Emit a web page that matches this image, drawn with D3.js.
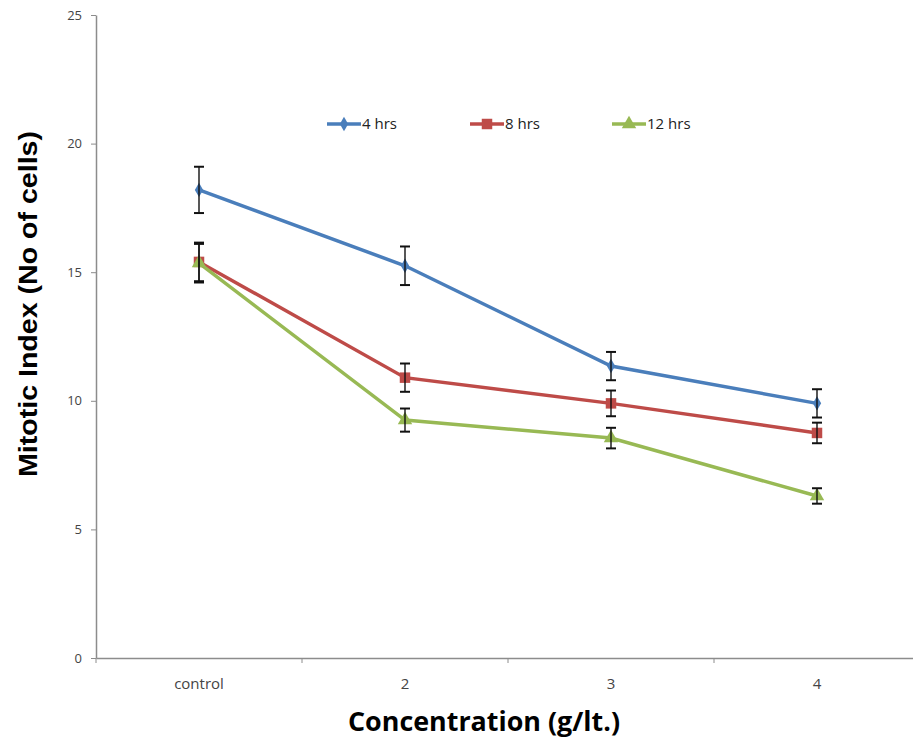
<!DOCTYPE html>
<html>
<head>
<meta charset="utf-8">
<script src="https://cdn.jsdelivr.net/npm/d3@7"></script>
<style>
  body { margin: 0; background: #fff; }
</style>
</head>
<body>
<div id="chart"></div>
<script>
const categories = ["control", "2", "3", "4"];
const seriesNames = ["4 hrs", "8 hrs", "12 hrs"];
const values4 = [18.2, 15.25, 11.35, 9.9];
const errors4 = [0.9, 0.75, 0.55, 0.55];
const values8 = [15.4, 10.9, 9.9, 8.75];
const errors8 = [0.75, 0.55, 0.5, 0.4];
const values12 = [15.35, 9.25, 8.55, 6.3];
const errors12 = [0.75, 0.45, 0.4, 0.3];
const yTicks = [0, 5, 10, 15, 20, 25];

const width = 913;
const height = 744;
const marginLeft = 96;
const marginTop = 15;
const marginBottom = 86;

const colors = ["#4a7ebb", "#be4b48", "#98b954"];
const symbols = [d3.symbolDiamond, d3.symbolSquare, d3.symbolTriangle];
const symbolSizes = [60, 110, 90];

const series = [
    { name: seriesNames[0], values: values4, errors: errors4 },
    { name: seriesNames[1], values: values8, errors: errors8 },
    { name: seriesNames[2], values: values12, errors: errors12 }
];

const svg = d3.select("#chart")
    .append("svg")
    .attr("width", width)
    .attr("height", height);

const x = d3.scaleBand()
    .domain(categories)
    .range([marginLeft, marginLeft + 4 * 206]);

const y = d3.scaleLinear()
    .domain([0, 25])
    .range([height - marginBottom, marginTop]);

const cx = d => x(d) + x.bandwidth() / 2;

// x axis
svg.append("g")
    .attr("transform", `translate(0,${y(0)})`)
    .call(d3.axisBottom(x).tickSize(0).tickPadding(20))
    .call(g => g.select(".domain").attr("stroke", "#8c8c8c").attr("stroke-width", 1.5))
    .call(g => g.selectAll("text")
        .attr("fill", "#444")
        .attr("font-family", "'Liberation Sans Narrow', 'Open Sans', sans-serif")
        .attr("font-size", 15));

// category boundary ticks
svg.append("g")
    .selectAll("line")
    .data(categories.concat(["end"]))
    .join("line")
    .attr("x1", (d, i) => marginLeft + i * x.bandwidth())
    .attr("x2", (d, i) => marginLeft + i * x.bandwidth())
    .attr("y1", y(0))
    .attr("y2", y(0) + 5)
    .attr("stroke", "#8c8c8c");

// y axis
svg.append("g")
    .attr("transform", `translate(${marginLeft},0)`)
    .call(d3.axisLeft(y).tickValues(yTicks).tickSize(5).tickPadding(9).tickSizeOuter(0))
    .call(g => g.select(".domain").attr("stroke", "#8c8c8c").attr("stroke-width", 1.5))
    .call(g => g.selectAll(".tick line").attr("stroke", "#8c8c8c"))
    .call(g => g.selectAll("text")
        .attr("fill", "#444")
        .attr("font-family", "'Open Sans', sans-serif")
        .attr("font-size", 13));

// axis titles
svg.append("text")
    .attr("transform", "translate(30,304) rotate(-90)")
    .attr("text-anchor", "middle")
    .attr("dominant-baseline", "middle")
    .attr("font-family", "'Liberation Sans', Arial, sans-serif")
    .attr("font-weight", "bold")
    .attr("font-size", 26)
    .attr("textLength", 346)
    .attr("lengthAdjust", "spacingAndGlyphs")
    .text("Mitotic Index (No of cells)");

svg.append("text")
    .attr("x", 484)
    .attr("y", 731)
    .attr("text-anchor", "middle")
    .attr("font-family", "'Open Sans', sans-serif")
    .attr("font-weight", "bold")
    .attr("font-size", 26)
    .attr("textLength", 272)
    .attr("lengthAdjust", "spacingAndGlyphs")
    .text("Concentration (g/lt.)");

const line = d3.line()
    .x((d, i) => cx(categories[i]))
    .y(d => y(d));

// lines
series.forEach((s, k) => {
    svg.append("path")
        .datum(s.values)
        .attr("fill", "none")
        .attr("stroke", colors[k])
        .attr("stroke-width", 3.5)
        .attr("d", line);
});

// markers
series.forEach((s, k) => {
    svg.append("g")
        .selectAll("path")
        .data(s.values)
        .join("path")
        .attr("transform", (d, i) => `translate(${cx(categories[i])},${y(d)})`)
        .attr("d", d3.symbol(symbols[k], symbolSizes[k]))
        .attr("fill", colors[k]);
});

// error bars
series.forEach((s, k) => {
    const g = svg.append("g")
        .attr("stroke", "#111")
        .attr("stroke-width", 1.4);
    s.values.forEach((v, i) => {
        const px = cx(categories[i]);
        g.append("line")
            .attr("x1", px).attr("x2", px)
            .attr("y1", y(v + s.errors[i])).attr("y2", y(v - s.errors[i]));
        [v + s.errors[i], v - s.errors[i]].forEach(e => {
            g.append("line")
                .attr("x1", px - 5).attr("x2", px + 5)
                .attr("y1", y(e)).attr("y2", y(e))
                .attr("stroke-width", 2);
        });
    });
});

// legend
const legendX = [327, 470, 612];
const legend = svg.append("g");
series.forEach((s, k) => {
    const lg = legend.append("g").attr("transform", `translate(${legendX[k]},124)`);
    lg.append("line")
        .attr("x1", 0).attr("x2", 34)
        .attr("stroke", colors[k])
        .attr("stroke-width", 3.5);
    lg.append("path")
        .attr("transform", "translate(17,0)")
        .attr("d", d3.symbol(symbols[k], symbolSizes[k]))
        .attr("fill", colors[k]);
    lg.append("text")
        .attr("x", 35)
        .attr("dy", "0.35em")
        .attr("font-family", "'Open Sans', sans-serif")
        .attr("font-size", 15)
        .attr("fill", "#222")
        .text(s.name);
});
</script>
</body>
</html>
